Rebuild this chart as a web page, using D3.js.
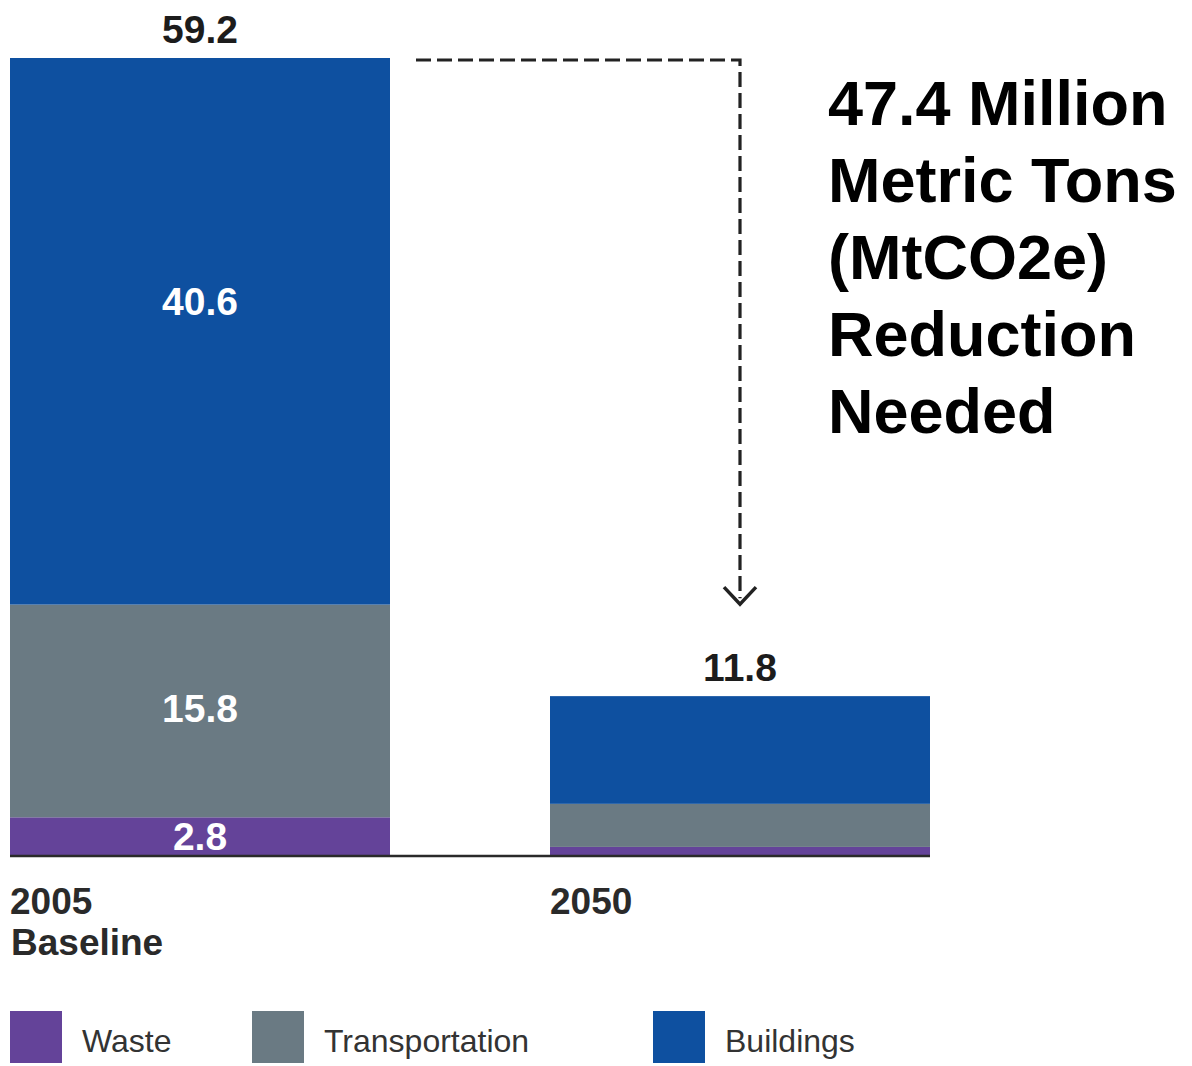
<!DOCTYPE html>
<html>
<head>
<meta charset="utf-8">
<script src="https://cdn.jsdelivr.net/npm/d3@7"></script>
<style>
  html, body { margin: 0; padding: 0; background: #fff; }
  svg { display: block; font-family: "Liberation Sans", Arial, Helvetica, sans-serif; }
</style>
</head>
<body>
<svg id="chart" width="1192" height="1066"></svg>
<script>
// ---- data ----
const categories = ["2005", "2050"];
const categorySub = ["Baseline", ""];
const seriesNames = ["Waste", "Transportation", "Buildings"];
const waste = [2.8, 0.6];
const transportation = [15.8, 3.2];
const buildings = [40.6, 8.0];
const totals = [59.2, 11.8];
const segmentLabels = [["2.8", "15.8", "40.6"], ["", "", ""]];
const totalLabels = ["59.2", "11.8"];
const annotationLines = ["47.4 Million", "Metric Tons", "(MtCO2e)", "Reduction", "Needed"];
const colors = ["#644399", "#6a7a83", "#0e50a0"];

// ---- build table ----
const table = categories.map((c, i) => ({
  cat: c, Waste: waste[i], Transportation: transportation[i], Buildings: buildings[i]
}));
const stack = d3.stack().keys(seriesNames)(table);

const svg = d3.select("#chart");

const x = d3.scaleBand().domain(categories).range([10, 930]).paddingInner(160 / 540).paddingOuter(0);
const y = d3.scaleLinear().domain([0, 59.2]).range([855, 58]);
const color = d3.scaleOrdinal().domain(seriesNames).range(colors);

// bars
const layers = svg.append("g").selectAll("g").data(stack).join("g")
  .attr("fill", d => color(d.key));
layers.selectAll("rect").data(d => d.map(v => ({ v, key: d.key })))
  .join("rect")
  .attr("x", d => x(d.v.data.cat))
  .attr("width", x.bandwidth())
  .attr("y", d => y(d.v[1]))
  .attr("height", d => y(d.v[0]) - y(d.v[1]));

// segment labels (white)
stack.forEach((layer, si) => {
  layer.forEach((v, ci) => {
    const lab = segmentLabels[ci][si];
    if (!lab) return;
    let cy = (y(v[0]) + y(v[1])) / 2;
    if (si === 2) cy -= 30;
    if (si === 1) cy -= 3;
    svg.append("text")
      .attr("x", x(v.data.cat) + x.bandwidth() / 2)
      .attr("y", cy)
      .attr("dy", "0.36em")
      .attr("text-anchor", "middle")
      .attr("fill", "#fff")
      .attr("font-weight", "bold")
      .attr("font-size", 39)
      .text(lab);
  });
});

// total labels
categories.forEach((c, i) => {
  svg.append("text")
    .attr("x", x(c) + x.bandwidth() / 2)
    .attr("y", y(totals[i]) - 15)
    .attr("text-anchor", "middle")
    .attr("fill", "#1c1c1c")
    .attr("font-weight", "bold")
    .attr("font-size", 39)
    .text(totalLabels[i]);
});

// baseline axis
const xAxis = d3.axisBottom(x).tickSize(0).tickFormat("");
const axisG = svg.append("g").attr("transform", `translate(0, ${y(0) + 1})`).call(xAxis);
axisG.select(".domain").attr("stroke", "#2a2a2a").attr("stroke-width", 2.5)
  .attr("d", `M${x.range()[0]},0H${x.range()[1]}`);

// category labels
categories.forEach((c, i) => {
  const t = svg.append("text")
    .attr("x", x(c))
    .attr("y", 914)
    .attr("fill", "#2a2a2a")
    .attr("font-weight", "bold")
    .attr("font-size", 37);
  t.append("tspan").attr("x", x(c)).text(c);
  if (categorySub[i]) t.append("tspan").attr("x", x(c) + 1).attr("dy", 41).text(categorySub[i]);
});

// dashed reduction arrow
const x0 = x(categories[0]) + x.bandwidth() + 26;
const x1 = x(categories[1]) + x.bandwidth() / 2;
const yTop = y(totals[0]) + 2;
const yArrow = y(totals[1]) - 92;
svg.append("path")
  .attr("d", `M${x0},${yTop}H${x1}V${yArrow - 6}`)
  .attr("fill", "none")
  .attr("stroke", "#222")
  .attr("stroke-width", 3.2)
  .attr("stroke-dasharray", "15,6");
svg.append("path")
  .attr("d", `M${x1 - 16},${yArrow - 17}L${x1},${yArrow}L${x1 + 16},${yArrow - 17}`)
  .attr("fill", "none")
  .attr("stroke", "#222")
  .attr("stroke-width", 3.5);

// annotation text
const ann = svg.append("text")
  .attr("x", 828)
  .attr("y", 125)
  .attr("fill", "#000")
  .attr("font-weight", "bold")
  .attr("font-size", 63);
annotationLines.forEach((l, i) => {
  ann.append("tspan").attr("x", 828).attr("dy", i === 0 ? 0 : 77).text(l);
});

// legend
const legendX = [10, 252, 653];
const lg = svg.append("g").selectAll("g").data(seriesNames).join("g")
  .attr("transform", (d, i) => `translate(${legendX[i]}, 1011)`);
lg.append("rect").attr("width", 52).attr("height", 52).attr("fill", d => color(d));
lg.append("text")
  .attr("x", 72)
  .attr("y", 41)
  .attr("fill", "#333")
  .attr("font-size", 32)
  .text(d => d);
</script>
</body>
</html>
